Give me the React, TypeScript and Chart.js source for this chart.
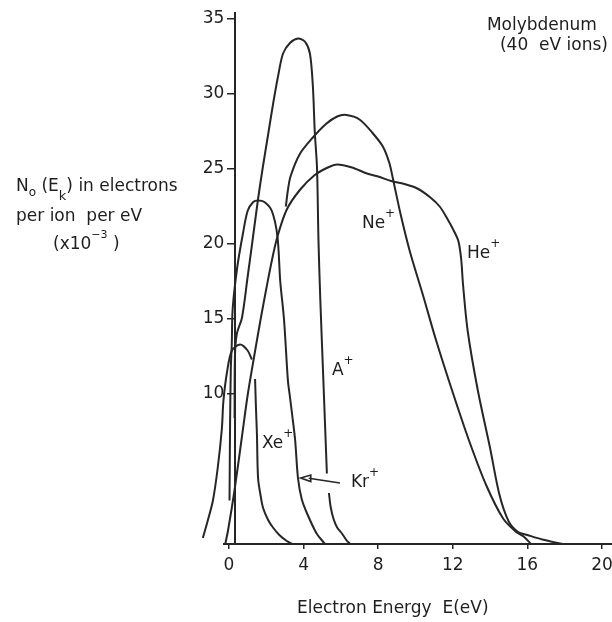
import React, { useEffect, useRef } from "react";
import { Chart, registerables } from "chart.js";

Chart.register(...registerables);

// Energy distributions of electrons ejected from molybdenum by 40 eV noble-gas ions.
// Energies in eV, yields in electrons per ion per eV (x10^-3). null marks a break in the trace.
const heEnergy = [-0.2, -0.05, 0.3, 0.7, 1.0, 1.35, 1.7, 2.0, 2.3, 2.6, 3.1, 3.8, 4.6, 5.3, 5.8, 6.6, 7.4, 8.0, 8.7, 9.4, 10.1, 10.8, 11.3, 11.7, 12.05, 12.3, 12.45, 12.55, 12.8, 13.35, 14.0, 14.5, 15.0, 15.5, 16.0, 16.8, 17.9];
const heYield = [0, 0.9, 3.6, 7.2, 9.9, 12.5, 15.0, 17.0, 18.9, 20.5, 22.3, 23.6, 24.6, 25.1, 25.3, 25.1, 24.7, 24.5, 24.2, 24.0, 23.7, 23.1, 22.5, 21.7, 20.9, 20.2, 19.0, 17.3, 14.2, 10.2, 6.4, 3.3, 1.5, 0.8, 0.6, 0.3, 0];

const neEnergy = [3.05, 3.15, 3.3, 3.8, 4.5, 5.2, 5.8, 6.3, 7.0, 7.7, 8.25, 8.6, 8.8, 9.2, 9.7, 10.4, 11.1, 12.0, 12.9, 13.8, 14.7, 15.4, 15.8, 16.2];
const neYield = [22.5, 23.5, 24.5, 26.0, 27.1, 28.0, 28.5, 28.6, 28.3, 27.4, 26.5, 25.4, 24.3, 22.0, 19.5, 16.6, 13.6, 10.1, 6.8, 3.9, 1.7, 0.8, 0.5, 0];

const arEnergy = [0.3, 0.32, 0.42, 0.7, 1.0, 1.25, 1.56, 1.8, 2.1, 2.36, 2.65, 2.9, 3.27, 3.7, 4.07, 4.34, 4.5, 4.6, 4.72, 4.8, 4.9, 5.05, 5.25, null, 5.36, 5.45, 5.6, 5.8, 6.06, 6.3, 6.5];
const arYield = [8.4, 12.5, 14.0, 15.1, 17.8, 20.1, 23.0, 25.0, 27.3, 29.3, 31.3, 32.7, 33.4, 33.7, 33.5, 32.7, 30.5, 27.5, 25.1, 20.2, 16.2, 11.3, 4.7, null, 3.4, 2.5, 1.7, 1.1, 0.7, 0.25, 0];

const krEnergy = [0.03, 0.06, 0.1, 0.15, 0.2, 0.45, 0.75, 1.0, 1.3, 1.56, 1.9, 2.3, 2.6, 2.75, 2.95, 3.16, 3.25, 3.4, 3.55, 3.7, 3.9, 4.2, 4.7, 5.15];
const krYield = [2.9, 8.0, 11.7, 13.3, 15.7, 18.5, 20.7, 22.2, 22.8, 22.9, 22.8, 22.2, 20.5, 17.5, 15.0, 10.9, 10.0, 8.5, 6.9, 4.4, 3.0, 2.0, 0.7, 0];

const xeEnergy = [-1.4, -1.15, -0.86, -0.6, -0.38, -0.3, -0.1, 0.16, 0.6, 1.0, 1.23, null, 1.4, 1.45, 1.5, 1.56, 1.7, 1.83, 2.1, 2.36, 2.7, 3.1, 3.4];
const xeYield = [0.4, 1.5, 2.9, 5.1, 7.7, 9.5, 11.5, 12.9, 13.3, 12.9, 12.3, null, 11.0, 9.0, 7.3, 4.4, 3.2, 2.4, 1.6, 1.1, 0.6, 0.2, 0];

const xTickValues = [0, 4, 8, 12, 16, 20];
const yTickValues = [10, 15, 20, 25, 30, 35];

const FONT = '"DejaVu Sans", sans-serif';
const INK = "#1e1e1e";
const LINE = "#262626";

type Pt = { x: number; y: number | null };

function toPoints(xs: (number | null)[], ys: (number | null)[]): Pt[] {
  const pts: Pt[] = [];
  let lastX = 0;
  xs.forEach((x, i) => {
    if (x !== null) lastX = x;
    pts.push({ x: lastX, y: ys[i] });
  });
  return pts;
}

type Part = { t: string; size: number; dy: number };

function drawRich(ctx: CanvasRenderingContext2D, x: number, y: number, parts: Part[]) {
  let cx = x;
  for (const p of parts) {
    ctx.font = `${p.size}px ${FONT}`;
    ctx.fillText(p.t, cx, y + p.dy);
    cx += ctx.measureText(p.t).width;
  }
}

const ion = (name: string): Part[] => [
  { t: name, size: 17, dy: 0 },
  { t: "+", size: 12, dy: -11 },
];

// label anchors in data units (energy, yield)
const ionLabels = [
  { parts: ion("Ne"), e: 7.13, n: 21.1 },
  { parts: ion("He"), e: 12.76, n: 19.1 },
  { parts: ion("A"), e: 5.52, n: 11.3 },
  { parts: ion("Xe"), e: 1.77, n: 6.4 },
  { parts: ion("Kr"), e: 6.54, n: 3.8 },
];

const annotations = {
  id: "annotations",
  afterDraw(chart: any) {
    const { ctx, scales } = chart;
    const xs = scales.x;
    const ys = scales.y;
    const px = (e: number) => xs.getPixelForValue(e);
    const py = (n: number) => ys.getPixelForValue(n);
    ctx.save();
    ctx.fillStyle = INK;
    ctx.strokeStyle = LINE;
    ctx.textAlign = "left";
    ctx.textBaseline = "alphabetic";

    for (const l of ionLabels) drawRich(ctx, px(l.e), py(l.n), l.parts);

    // arrow pointing from the Kr+ label to its curve
    const ax0 = px(5.95), ay0 = py(4.07);
    const ax1 = px(3.85), ay1 = py(4.4);
    ctx.lineWidth = 1.6;
    ctx.beginPath();
    ctx.moveTo(ax0, ay0);
    ctx.lineTo(ax1 + 8, ay1 + 0.2);
    ctx.stroke();
    ctx.beginPath();
    ctx.moveTo(ax1, ay1);
    ctx.lineTo(ax1 + 10, ay1 - 3);
    ctx.lineTo(ax1 + 10, ay1 + 3.5);
    ctx.closePath();
    ctx.stroke();

    // specimen note, top right
    drawRich(ctx, px(13.83), py(34.27), [{ t: "Molybdenum", size: 17, dy: 0 }]);
    drawRich(ctx, px(14.53), py(32.93), [{ t: "(40  eV ions)", size: 17, dy: 0 }]);

    // vertical axis title
    drawRich(ctx, 16, 191, [
      { t: "N", size: 17, dy: 0 },
      { t: "o", size: 12, dy: 5 },
      { t: " (E", size: 17, dy: 0 },
      { t: "k", size: 13, dy: 9 },
      { t: ") in electrons", size: 17, dy: 0 },
    ]);
    drawRich(ctx, 16, 221, [{ t: "per ion  per eV", size: 17, dy: 0 }]);
    drawRich(ctx, 53, 249, [
      { t: "(x10", size: 17, dy: 0 },
      { t: "\u22123", size: 11, dy: -11 },
      { t: " )", size: 17, dy: 0 },
    ]);

    // horizontal axis title
    drawRich(ctx, 297, 613, [{ t: "Electron Energy  E(eV)", size: 17, dy: 0 }]);

    ctx.restore();
  },
};

const series: [(number | null)[], (number | null)[]][] = [
  [heEnergy, heYield],
  [neEnergy, neYield],
  [arEnergy, arYield],
  [krEnergy, krYield],
  [xeEnergy, xeYield],
];

const yTicks = (s: any) => {
  s.ticks = yTickValues.map((value) => ({ value }));
};

const LABEL_BAND = 40;

export default function App() {
  const ref = useRef<HTMLCanvasElement | null>(null);

  useEffect(() => {
    const canvas = ref.current;
    if (!canvas) return;
    const datasets = series.map(([xs, ys]) => {
      // traced right to left so the part left of the axis minimum is not trimmed
      const pts = toPoints(xs, ys).reverse();
      return {
        data: pts,
        yAxisID: "y",
        borderColor: LINE,
        borderWidth: 2,
        pointRadius: 0,
        tension: 0.3,
        fill: false,
        spanGaps: false,
        clip: false as any,
      };
    });

    const chart = new Chart(canvas, {
      type: "line",
      data: { datasets: datasets as any },
      plugins: [annotations],
      options: {
        responsive: false,
        animation: false,
        events: [],
        devicePixelRatio: 1,
        layout: { padding: { left: 224.3 - LABEL_BAND, right: 0.7, top: 13, bottom: 0 } },
        plugins: {
          legend: { display: false },
          tooltip: { enabled: false },
          title: { display: false },
        },
        scales: {
          x: {
            type: "linear",
            position: "bottom",
            min: -0.25,
            max: 20.5,
            afterBuildTicks: (s: any) => {
              s.ticks = xTickValues.map((value) => ({ value }));
            },
            afterFit: (s: any) => {
              s.height = 78;
              s.paddingLeft = 0;
              s.paddingRight = 0;
            },
            grid: { drawOnChartArea: false, drawTicks: true, tickLength: 5, color: LINE, lineWidth: 1.5 },
            border: { display: true, color: LINE, width: 2 },
            ticks: {
              color: INK,
              font: { family: "DejaVu Sans", size: 17 },
              padding: 6,
              maxRotation: 0,
              autoSkip: false,
            },
          },
          // value labels, right-aligned just left of the plotting area
          y: {
            type: "linear",
            position: "left",
            min: 0,
            max: 35.4,
            afterBuildTicks: yTicks,
            afterFit: (s: any) => {
              s.width = LABEL_BAND;
              s.paddingTop = 0;
              s.paddingBottom = 0;
            },
            grid: { display: false, drawTicks: false, drawOnChartArea: false },
            border: { display: false },
            ticks: {
              color: INK,
              font: { family: "DejaVu Sans", size: 17 },
              padding: 0,
              autoSkip: false,
            },
          },
          // the drawn vertical axis with its tick marks
          yAxisLine: {
            type: "linear",
            axis: "y",
            position: { x: 0.3 } as any,
            min: 0,
            max: 35.4,
            afterBuildTicks: yTicks,
            afterFit: (s: any) => {
              s.paddingTop = 0;
              s.paddingBottom = 0;
            },
            grid: { drawOnChartArea: false, drawTicks: true, tickLength: 7, color: LINE, lineWidth: 1.5 },
            border: { display: true, color: LINE, width: 2 },
            ticks: { display: false },
          },
        },
      } as any,
    });

    return () => chart.destroy();
  }, []);

  return (
    <div style={{ position: "fixed", left: 0, top: 0, width: 612, height: 622, background: "#fff" }}>
      <canvas ref={ref} width={612} height={622} style={{ width: 612, height: 622, display: "block" }} />
    </div>
  );
}
